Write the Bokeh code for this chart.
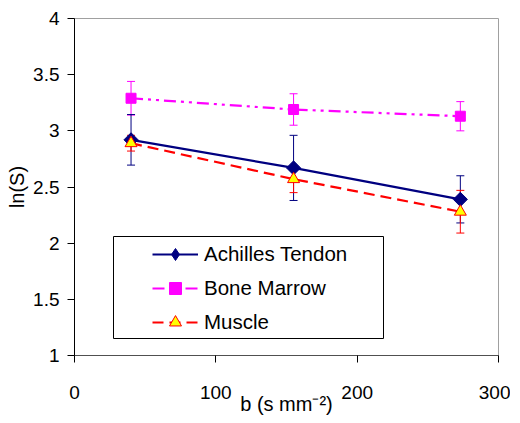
import math
from bokeh.plotting import figure
from bokeh.models import (Range1d, FixedTicker, Whisker, ColumnDataSource, Legend,
                          LegendItem, BoxAnnotation, TeeHead)
from bokeh.embed import file_html
from bokeh.resources import INLINE

# ---- data ----
b_values = [40, 155, 273]
achilles = [2.92, 2.67, 2.39]
achilles_err = [0.225, 0.29, 0.21]
bone_marrow = [3.29, 3.19, 3.13]
bone_marrow_err = [0.15, 0.14, 0.13]
muscle = [2.89, 2.57, 2.28]
muscle_err = [0.07, 0.12, 0.19]
series_names = ["Achilles Tendon", "Bone Marrow", "Muscle"]
x_ticks = [0, 100, 200, 300]
y_ticks = [1, 1.5, 2, 2.5, 3, 3.5, 4]
y_tick_labels = ["1", "1.5", "2", "2.5", "3", "3.5", "4"]

FONT = "Liberation Sans"

p = figure(width=510, height=417,
           min_border_left=74, min_border_right=12, min_border_top=18, min_border_bottom=61,
           x_range=Range1d(0, 300), y_range=Range1d(1, 4),
           output_backend="svg", toolbar_location=None)

p.xgrid.visible = False
p.ygrid.visible = False
p.outline_line_color = "#a0a0a0"
p.background_fill_color = "white"
p.border_fill_color = "white"

# axes
p.xaxis.ticker = FixedTicker(ticks=x_ticks)
p.yaxis.ticker = FixedTicker(ticks=y_ticks)
p.yaxis.major_label_overrides = {t: l for t, l in zip(y_ticks, y_tick_labels)}
for ax in (p.xaxis, p.yaxis):
    ax.major_tick_in = 0
    ax.major_tick_out = 7
    ax.minor_tick_line_color = None
    ax.major_label_text_font = FONT
    ax.major_label_text_font_size = "19px"
    ax.major_label_text_color = "black"
    ax.axis_label_text_font = FONT
    ax.axis_label_text_font_size = "20px"
    ax.axis_label_text_font_style = "normal"
    ax.axis_label_text_color = "black"
p.yaxis.axis_line_color = "black"
p.yaxis.major_tick_line_color = "black"
p.xaxis.axis_line_color = "#505050"
p.xaxis.major_tick_line_color = "black"
p.yaxis.major_label_standoff = 8
p.yaxis.axis_label_standoff = 2
p.xaxis.major_label_standoff = 23
p.xaxis.axis_label_standoff = -9
p.yaxis.axis_label = "ln(S)"
p.xaxis.axis_label = "b (s mm\u207b\u00b2)"

# error bars
def add_err(vals, errs, color):
    src = ColumnDataSource(dict(x=b_values,
                                up=[v + e for v, e in zip(vals, errs)],
                                lo=[v - e for v, e in zip(vals, errs)]))
    w = Whisker(source=src, base="x", upper="up", lower="lo", dimension="height",
                line_color=color, line_width=1, level="underlay",
                upper_head=TeeHead(size=8, line_color=color, line_width=1),
                lower_head=TeeHead(size=8, line_color=color, line_width=1))
    p.add_layout(w)

# legend frame (screen units, relative to the plot frame, y measured from bottom)
box = BoxAnnotation(left=39, right=309, top=119, bottom=17,
                    left_units="screen", right_units="screen",
                    top_units="screen", bottom_units="screen",
                    fill_color="white", fill_alpha=1.0,
                    line_color="black", line_alpha=1.0, line_width=1, level="underlay")
p.add_layout(box)

add_err(bone_marrow, bone_marrow_err, "#ff00ff")
add_err(achilles, achilles_err, "#000080")
add_err(muscle, muscle_err, "#ff0000")

# series
l_bm = p.line(b_values, bone_marrow, line_color="#ff00ff", line_width=2.2,
              line_dash="12 5 3 5 3 5")
s_bm = p.scatter(b_values, bone_marrow, marker="square", size=10,
                 fill_color="#ff00ff", line_color="#ff00ff")
l_mu = p.line(b_values, muscle, line_color="#ff0000", line_width=2.2, line_dash="11 6")
l_at = p.line(b_values, achilles, line_color="#000080", line_width=2.2)
# diamond (used for the legend, and lying under the rotated square in the plot)
d_at = p.scatter(b_values, achilles, marker="diamond", size=13,
                 fill_color="#000080", line_color="#000080")
s_at = p.scatter(b_values, achilles, marker="square", angle=math.pi / 4, size=10,
                 fill_color="#000080", line_color="#000080")
s_mu = p.scatter(b_values, muscle, marker="triangle", size=12,
                 fill_color="#ffff00", line_color="#ff0000", line_width=1)

legend = Legend(items=[LegendItem(label=series_names[0], renderers=[l_at, d_at]),
                       LegendItem(label=series_names[1], renderers=[l_bm, s_bm]),
                       LegendItem(label=series_names[2], renderers=[l_mu, s_mu])],
                location=(78, 18), border_line_color=None, background_fill_alpha=0,
                padding=0, spacing=4, margin=0, glyph_width=46, glyph_height=30,
                label_standoff=6, label_text_font=FONT, label_text_font_size="20.5px",
                label_text_color="black")
p.add_layout(legend)

open("out.html", "w").write(file_html(p, INLINE))
